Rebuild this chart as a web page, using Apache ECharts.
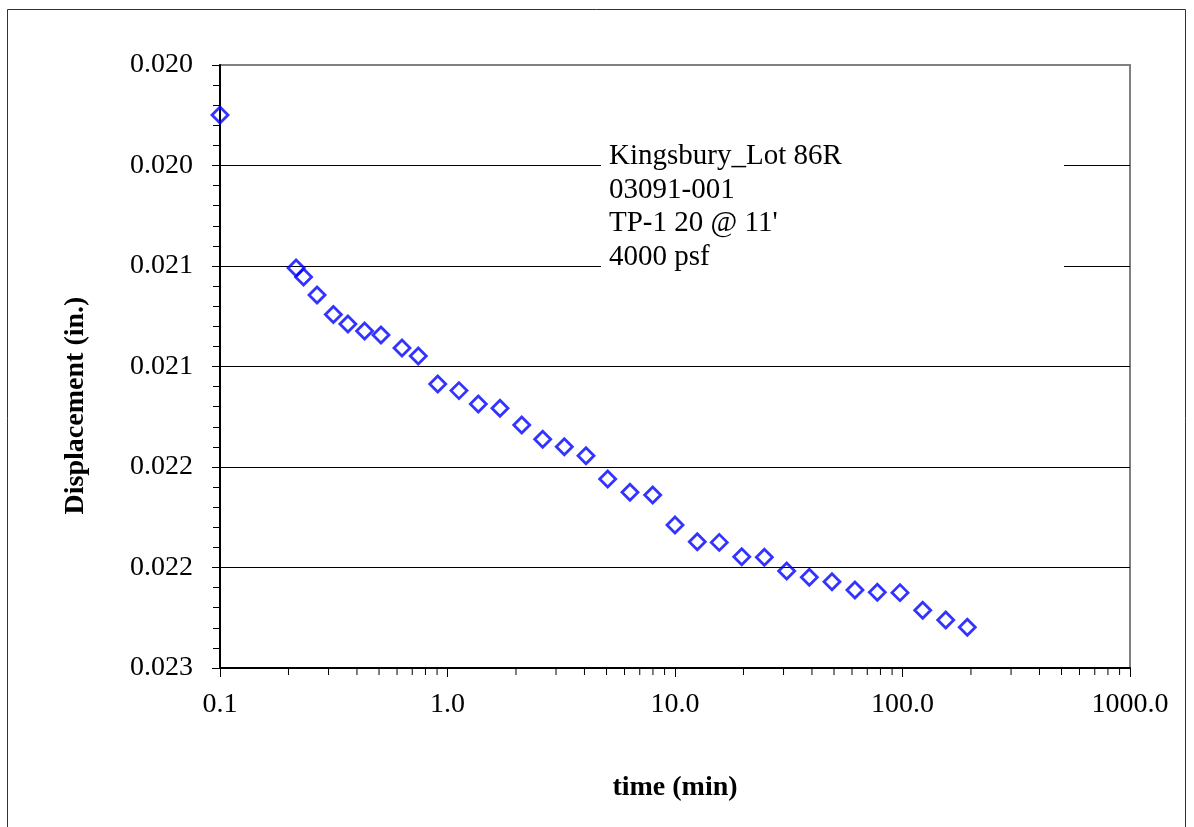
<!DOCTYPE html>
<html>
<head>
<meta charset="utf-8">
<script src="https://cdn.jsdelivr.net/npm/echarts@6/dist/echarts.min.js"></script>
<style>
html,body{margin:0;padding:0;background:#fff;}
#chart{width:1194px;height:827px;}
</style>
</head>
<body>
<div id="chart"></div>
<script>
// ---- data ----
const timeMin = [0.1, 0.216, 0.233, 0.267, 0.315, 0.365, 0.432, 0.510, 0.631, 0.744,
  0.906, 1.123, 1.366, 1.701, 2.120, 2.621, 3.262, 4.062, 5.06, 6.34,
  7.98, 10.0, 12.53, 15.65, 19.65, 24.7, 30.97, 38.94, 48.98, 61.8,
  77.5, 97.5, 122.7, 154.9, 192.7];
const displacement = [0.020249, 0.021010, 0.021055, 0.021144, 0.021241, 0.021289, 0.021323, 0.021343, 0.021408, 0.021448,
  0.021587, 0.021620, 0.021687, 0.021708, 0.021791, 0.021862, 0.021899, 0.021944, 0.022060, 0.022126,
  0.022139, 0.022289, 0.022372, 0.022375, 0.022446, 0.022449, 0.022517, 0.022549, 0.022571, 0.022612,
  0.022623, 0.022625, 0.022713, 0.022761, 0.022797];
const yTickLabels = ['0.020', '0.020', '0.021', '0.021', '0.022', '0.022', '0.023'];
const xMinorTicks = [0.2, 0.3, 0.4, 0.5, 0.6, 0.7, 0.8, 0.9,
  2, 3, 4, 5, 6, 7, 8, 9,
  20, 30, 40, 50, 60, 70, 80, 90,
  200, 300, 400, 500, 600, 700, 800, 900];
const noteLines = ['Kingsbury_Lot 86R', '03091-001', "TP-1 20 @ 11'", '4000 psf'];
const xTitle = 'time (min)';
const yTitle = 'Displacement (in.)';

const yMin = 0.020, yMax = 0.023, yStep = 0.0005;
const FONT = "'Liberation Serif', 'Times New Roman', serif";

const chart = echarts.init(document.getElementById('chart'), null, {renderer: 'canvas'});
chart.setOption({
  animation: false,
  backgroundColor: '#fff',
  grid: {left: 220, top: 65, width: 910, height: 603, show: true,
         borderColor: '#808080', borderWidth: 2, backgroundColor: 'transparent'},
  xAxis: {
    type: 'log', logBase: 10, min: 0.1, max: 1000,
    name: xTitle, nameLocation: 'middle', nameGap: 106,
    nameTextStyle: {fontFamily: FONT, fontSize: 28, fontWeight: 'bold', color: '#000'},
    axisLine: {onZero: false, lineStyle: {color: '#000', width: 2}},
    axisTick: {show: true, inside: false, length: 9, lineStyle: {color: '#000', width: 1}},
    minorTick: {show: false},
    splitLine: {show: false},
    axisLabel: {fontFamily: FONT, fontSize: 28, color: '#000', margin: 23,
      formatter: v => Number(v).toFixed(1)}
  },
  yAxis: {
    type: 'value', inverse: true, min: yMin, max: yMax, interval: yStep,
    name: yTitle, nameLocation: 'middle', nameGap: 130, nameRotate: 90,
    nameTextStyle: {fontFamily: FONT, fontSize: 28, fontWeight: 'bold', color: '#000',
                    padding: [0, 78, 0, 0]},
    axisLine: {show: true, lineStyle: {color: '#000', width: 2}},
    axisTick: {show: true, inside: false, length: 8, lineStyle: {color: '#000', width: 1}},
    minorTick: {show: true, splitNumber: 5, length: 7, lineStyle: {color: '#000', width: 1}},
    splitLine: {show: true, showMinLine: false, showMaxLine: false, lineStyle: {color: '#000', width: 1}},
    axisLabel: {fontFamily: FONT, fontSize: 28, color: '#000', margin: 27,
      formatter: v => yTickLabels[Math.round((v - yMin) / yStep)] ?? ''}
  },
  graphic: [
    {type: 'rect', z: 100, silent: true,
     shape: {x: 7.5, y: 9.5, width: 1178, height: 900},
     style: {fill: 'none', stroke: '#333', lineWidth: 1}},
    {type: 'rect', z: 100, silent: true,
     shape: {x: 601, y: 135, width: 463, height: 142},
     style: {fill: '#fff', stroke: 'none'}},
    {type: 'text', z: 101, silent: true, x: 609, y: 140,
     style: {text: noteLines.join('\n'), font: '29px ' + FONT, fill: '#000',
             lineHeight: 33.5, textAlign: 'left', textVerticalAlign: 'top'}}
  ],
  series: [
    {
      type: 'scatter', clip: false, z: 5,
      data: timeMin.map((t, i) => [t, displacement[i]]),
      symbol: 'diamond', symbolSize: 16,
      itemStyle: {color: 'rgba(0,0,0,0)', borderColor: '#0000ff', borderWidth: 2.8}
    },
    {
      type: 'custom', clip: false, silent: true, z: 3,
      data: xMinorTicks.map(v => [v, yMax]),
      renderItem: (params, api) => {
        const p = api.coord([api.value(0), api.value(1)]);
        return {type: 'line', shape: {x1: p[0], y1: p[1], x2: p[0], y2: p[1] + 7},
                style: {stroke: '#000', lineWidth: 1}};
      }
    }
  ]
});
</script>
</body>
</html>
